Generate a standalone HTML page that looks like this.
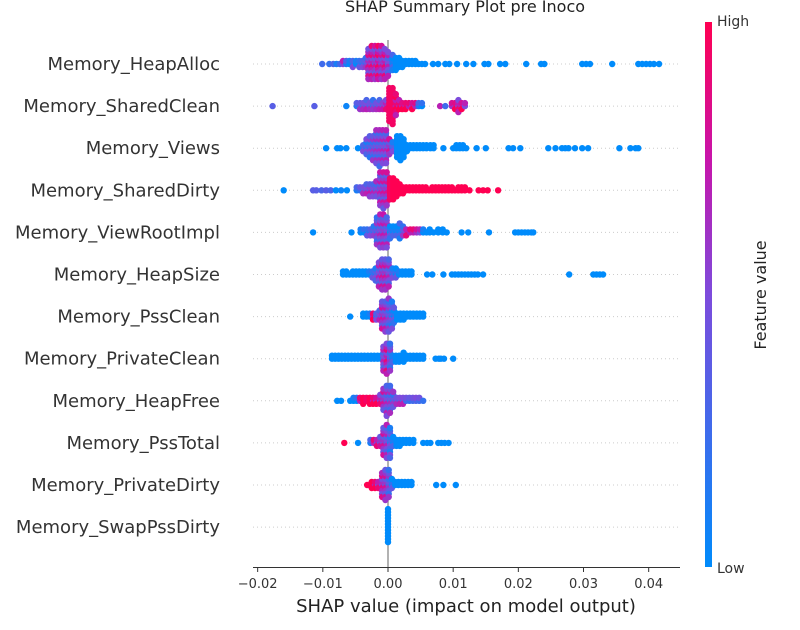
<!DOCTYPE html>
<html><head><meta charset="utf-8"><style>
html,body{margin:0;padding:0;background:#fff;}
svg{display:block;font-family:"DejaVu Sans","Liberation Sans",sans-serif;}
</style></head><body>
<svg id="chart" width="800" height="630">
<defs><linearGradient id="cbg" x1="0" y1="1" x2="0" y2="0">
<stop offset="0" stop-color="#008bfb"/><stop offset="0.5" stop-color="#7d4bdc"/><stop offset="0.75" stop-color="#c814aa"/><stop offset="1" stop-color="#ff0052"/></linearGradient></defs>
<text x="465" y="12" text-anchor="middle" font-size="16" fill="#222">SHAP Summary Plot pre Inoco</text>
<g id="grid"></g>
<line x1="388" y1="40" x2="388" y2="567" stroke="#999" stroke-width="1.5"/>
<g id="dots"></g>
<line x1="253" y1="567.5" x2="680" y2="567.5" stroke="#333" stroke-width="1"/>
<g id="xticks"></g>
<text x="466" y="612" text-anchor="middle" font-size="18" fill="#222">SHAP value (impact on model output)</text>
<rect x="705" y="22" width="7" height="545" fill="url(#cbg)"/>
<text x="717" y="26" font-size="14" fill="#333">High</text>
<text x="717" y="573" font-size="14" fill="#333">Low</text>
<text x="766" y="295" font-size="16" fill="#222" text-anchor="middle" transform="rotate(-90 766 295)">Feature value</text>
</svg>
<script>
const features = ["Memory_HeapAlloc","Memory_SharedClean","Memory_Views","Memory_SharedDirty","Memory_ViewRootImpl","Memory_HeapSize","Memory_PssClean","Memory_PrivateClean","Memory_HeapFree","Memory_PssTotal","Memory_PrivateDirty","Memory_SwapPssDirty"];
const xTickValues = [-0.02,-0.01,0,0.01,0.02,0.03,0.04];
const xTickLabels = ["\u22120.02","\u22120.01","0.00","0.01","0.02","0.03","0.04"];
// SHAP bin centres (x 0.001), dot counts per bin, feature-value colour per bin (0 low .. 1 high)
const shapBins = [
[-10.1,-9,-8.4,-7.9,-7.4,-6.9,-6.4,-5.9,-5.4,-4.9,-4.4,-3.9,-3.4,-3,-2.5,-2,-1.5,-1,-0.5,0,0.7,1.2,1.7,2.2,2.7,3.2,3.7,4.2,4.7,5.2,5.7,6.9,7.7,8.8,9.4,10.6,12,13.1,14.8,15.4,17.2,18,21.2,23.5,24,29.8,30.4,31,34.4,38.4,39,39.6,40.2,40.8,41.6],
[-17.7,-11.3,-6.4,-4.8,-4.3,-3.8,-3.3,-2.8,-2.3,-1.8,-1.3,-0.8,-0.3,0.2,0.7,1.2,1.7,2.2,2.7,3.2,3.7,4.2,4.7,5.2,8,8.8,9.8,10.3,10.8,11.3,11.8],
[-9.5,-7.8,-7.3,-6.4,-4.6,-3.8,-3.3,-2.8,-2.3,-1.8,-1.3,-0.8,-0.3,0.2,0.7,1.4,1.9,2.4,2.9,3.4,3.9,4.4,4.9,5.4,5.9,6.5,7,8.5,10,10.5,11,11.5,12,13.6,15,18.5,19.2,20.3,24.6,25.7,26.7,27.2,27.7,28.7,29.8,30.7,35.5,37.2,38,38.4],
[-16,-11.5,-11,-10.2,-9.5,-8.8,-8,-7.2,-6.3,-4.8,-4.3,-3.8,-3.3,-2.8,-2.3,-1.8,-1.2,-0.7,-0.2,0.3,0.8,1.3,1.8,2.3,2.8,3.3,3.8,4.3,4.8,5.3,5.8,6.3,6.8,7.3,7.8,8.3,8.8,9.3,9.8,10.3,10.8,11.3,11.8,12.5,13.9,14.6,15.3,16.9],
[-11.5,-5.6,-4.2,-3.7,-3.2,-2.7,-2.2,-1.7,-1.2,-0.7,-0.2,0.3,0.8,1.3,1.8,2.3,2.8,3.4,3.9,4.4,4.9,5.4,5.9,6.4,7,7.7,8.4,9,11.3,12.3,15.5,19.5,20,20.5,21,21.5,22,22.3],
[-6.9,-6.4,-5.9,-5.4,-4.9,-4.4,-3.9,-3.4,-2.9,-2.4,-1.9,-1.4,-0.9,-0.4,0.1,0.7,1.2,1.7,2.2,2.7,3.2,3.6,6,6.8,8.5,9.8,10.3,10.8,11.3,11.8,12.3,12.8,13.3,13.8,14.6,27.8,31.5,32,32.5,33],
[-5.8,-3.8,-3.3,-2.8,-2.3,-1.8,-1.3,-0.9,-0.4,0.1,0.6,0.9,1.4,1.9,2.4,2.9,3.4,3.9,4.4,4.9,5.4],
[-8.6,-8.1,-7.6,-7.1,-6.6,-6.1,-5.6,-5.1,-4.6,-4.1,-3.6,-3.1,-2.6,-2.1,-1.6,-1.1,-0.7,-0.2,0.3,0.7,1.2,1.7,2.4,2.9,3.4,3.9,4.4,4.9,5.4,7.3,7.8,8.1,8.6,10],
[-7.8,-7.2,-5.8,-5.3,-4.8,-4.3,-3.8,-3.3,-2.8,-2.3,-1.8,-1.2,-0.7,-0.2,0.3,0.8,1.3,1.8,2.3,2.8,3.3,3.8,4.3,4.8,5.4],
[-6.7,-4.6,-2.7,-2.2,-1.7,-1.2,-0.7,-0.2,0.3,0.8,1.3,1.8,2.3,2.8,3.3,3.9,5.4,6,6.5,7.7,8.2,8.7,9.3],
[-3.2,-2.5,-2,-1.5,-0.9,-0.4,0.1,0.6,1.1,1.6,2.1,2.6,3.1,3.6,7.4,8.5,10.4],
[0]
];
const binCounts = [
[1,1,1,1,1,2,2,2,3,2,3,3,4,11,12,12,12,12,11,9,6,5,4,3,2,2,2,2,1,1,1],
[1,1,1,2,3,3,4,3,4,3,4,3,4,12,13,8,4,3,3,2,3,2,2,2,1,1,2,3,5,3,2],
[1,1,1,1,1,3,6,8,9,12,13,12,12,6,4,8,9,7,3,2,2,2,2,2,2,2,2,1,1,2,2,2,1],
[1,1,1,1,1,1,1,1,1,2,2,3,4,5,5,6,12,13,12,8,8,6,4,3,2,2,2,2,2,2,2,1,2,2,2,2,2,2,2,1,2,2,2,1],
[1,1,2,2,3,3,4,10,12,12,11,5,4,4,6,4,3,2,2,2,2,2,1,2,1,2,2,1],
[2,2,1,2,2,2,2,2,2,3,5,9,11,11,10,4,4,2,2,2,2,2],
[1,2,2,2,3,3,4,10,11,12,10,6,3,3,3,2,2,2,2,2,2],
[2,2,2,2,2,2,2,2,2,2,2,2,2,2,2,2,9,11,10,3,3,3,4,2,2,2,2,2,2],
[1,1,1,2,2,2,3,2,3,3,3,4,8,11,10,6,3,3,3,2,2,2,2,2,1],
[1,1,2,2,3,4,10,12,11,4,3,3,2,2,2,2],
[1,3,3,3,9,11,10,4,2,2,2,2,2,2],
[12]
];
const binColors = [
[0.45,0.4,0.5,0.3,0.45,0.7,0.3,0.1,0.3,0.1,0.2,0.3,0.4,0.65,0.7,0.6,0.75,0.6,0.7,0.5,0.1,0],
[0.55,0.55,0.05,0.35,0.4,0.45,0.5,0.45,0.4,0.45,0.5,0.55,0.7,0.95,0.95,0.9,0.9,0.85,0.9,0.9,0.8,0.85,0.3,0.2,0.9,0.45,0.8,0.85,0.7,0.8,0.7],
[0,0,0,0,0,0.3,0.3,0.35,0.4,0.45,0.45,0.5,0.5,0.6,0.3,0],
[0.1,0.55,0.55,0.5,0.55,0.5,0.1,0.05,0.1,0.3,0.4,0.45,0.5,0.55,0.5,0.45,0.55,0.6,0.6,0.95,1],
[0,0,0.1,0.2,0.2,0.3,0.35,0.4,0.5,0.55,0.5,0.2,0.1,0.1,0.1,0.4,0.7,0.9,0.9,0.8,0.7,0.1,0],
[0,0,0,0,0,0,0,0,0.1,0.2,0.3,0.5,0.6,0.6,0.5,0.3,0.2,0.1,0],
[0,0,0,0.1,0.9,0.3,0.5,0.6,0.55,0.4,0.3,0.2,0],
[0,0,0,0,0,0,0,0,0,0,0,0,0,0,0,0,0.5,0.7,0.4,0.1,0],
[0,0,0,0.1,0.2,0.9,1,0.95,1,0.9,0.8,0.7,0.6,0.5,0.45,0.4,0.45,0.5,0.5,0.45,0.4,0.45,0.5,0.45,0.4],
[1,0,0.3,0.9,0.7,0.6,0.6,0.5,0.3,0.1,0],
[1,1,0.9,0.7,0.65,0.6,0.4,0.2,0],
[0]
];

const NS = "http://www.w3.org/2000/svg";
const X0 = 388, PX_PER_UNIT = 6517;
function xScale(v){ return X0 + v * PX_PER_UNIT; }
function yRow(i){ return 64 + i * 42.1; }
const stops = [[0,[0,139,251]],[0.5,[125,75,220]],[0.75,[200,20,170]],[1,[255,0,82]]];
function colorOf(t){
  t = Math.max(0, Math.min(1, t));
  for (let i = 1; i < stops.length; i++) {
    if (t <= stops[i][0]) {
      const a = stops[i-1], b = stops[i], f = (t - a[0]) / (b[0] - a[0]);
      const c = a[1].map((v, k) => Math.round(v + (b[1][k] - v) * f));
      return "rgb(" + c.join(",") + ")";
    }
  }
  return "rgb(255,0,82)";
}
const svg = document.getElementById("chart");
const grid = document.getElementById("grid"), dots = document.getElementById("dots"), xt = document.getElementById("xticks");

features.forEach((f, i) => {
  const y = yRow(i);
  const gl = document.createElementNS(NS, "line");
  gl.setAttribute("x1", 253); gl.setAttribute("x2", 680);
  gl.setAttribute("y1", y); gl.setAttribute("y2", y);
  gl.setAttribute("stroke", "#ccc"); gl.setAttribute("stroke-dasharray", "1,3");
  
  
  grid.appendChild(gl);
  const t = document.createElementNS(NS, "text");
  t.setAttribute("x", 220); t.setAttribute("y", y + 6);
  t.setAttribute("text-anchor", "end"); t.setAttribute("font-size", "18"); t.setAttribute("fill", "#333");
  t.textContent = f;
  
  
  svg.appendChild(t);

  const s = shapBins[i], n = binCounts[i], c = binColors[i];
  s.forEach((v, j) => {
    const cnt = n[j] !== undefined ? n[j] : 1;
    const col = c[j] !== undefined ? c[j] : c[c.length - 1];
    for (let k = 0; k < cnt; k++) {
      const off = (k % 2 === 0 ? 1 : -1) * Math.ceil(k / 2) * 3;
      let cc = col;
      if (col > 0.05 && col < 0.95) cc = col + ((k % 3) - 1) * 0.2;
      const d = document.createElementNS(NS, "circle");
      d.setAttribute("cx", xScale(v / 1000).toFixed(1));
      d.setAttribute("cy", (y + off).toFixed(1));
      d.setAttribute("r", 3.2);
      d.setAttribute("fill", colorOf(cc));
      
      
      dots.appendChild(d);
    }
  });
});

xTickValues.forEach((v, i) => {
  const x = xScale(v);
  const tk = document.createElementNS(NS, "line");
  tk.setAttribute("x1", x); tk.setAttribute("x2", x);
  tk.setAttribute("y1", 567); tk.setAttribute("y2", 572);
  tk.setAttribute("stroke", "#333");
  
  
  xt.appendChild(tk);
  const lb = document.createElementNS(NS, "text");
  lb.setAttribute("x", x); lb.setAttribute("y", 588);
  lb.setAttribute("text-anchor", "middle"); lb.setAttribute("font-size", "13"); lb.setAttribute("fill", "#333");
  lb.textContent = xTickLabels[i];
  
  
  xt.appendChild(lb);
});
</script>
</body></html>
